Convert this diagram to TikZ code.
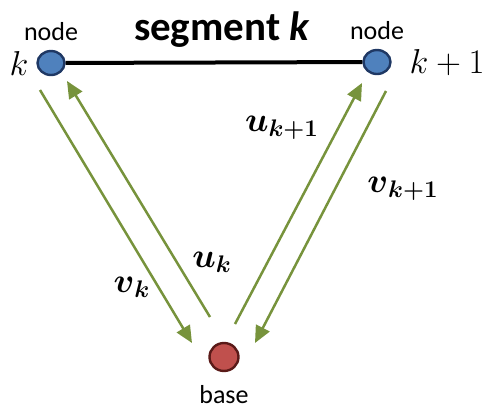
\documentclass[tikz,border=0pt]{standalone}
\usepackage{amsmath,amssymb}
\usepackage{fontspec}
\setmainfont{Carlito}
\usepackage{xcolor}
\usepackage{tikz}
\usetikzlibrary{arrows.meta,positioning,shapes.geometric}

\definecolor{arrowgreen}{HTML}{77933C}
\definecolor{nodeblue}{HTML}{4F81BD}
\definecolor{nodeedge}{HTML}{1F3864}
\definecolor{basered}{HTML}{C0504D}
\definecolor{baseedge}{HTML}{5A1A18}

\begin{document}
\begin{tikzpicture}[x=0.5pt,y=-0.5pt,
  segnode/.style={ellipse,draw=nodeedge,fill=nodeblue,line width=1.2pt,
    minimum width=13.5pt,minimum height=12pt,inner sep=0pt},
  basenode/.style={ellipse,draw=baseedge,fill=basered,line width=1.2pt,
    minimum width=14.5pt,minimum height=14pt,inner sep=0pt},
  tag/.style={font=\fontsize{13}{15}\selectfont},
  idx/.style={font=\fontsize{19}{21}\selectfont},
  flow/.style={draw=arrowgreen,line width=1.25pt,
    -{Triangle[length=8.5pt,width=7.5pt]}},
  flowlbl/.style={font=\fontsize{18}{20}\selectfont}
]
  \useasboundingbox (0,0) rectangle (489,408);

  % nodes
  \node[segnode] (left) at (51,63) {};
  \node[segnode] (right) at (377,62) {};
  \node[basenode] (base) at (224,357) {};

  \node[tag,above=1pt of left] (lefttag) {node};
  \node[tag,above=1pt of right] (righttag) {node};
  \node[tag,below=3pt of base] (basetag) {base};
  \node[idx] (kname) at (19,63) {$k$};
  \node[idx] (kpname) at (447,63) {$k+1$};

  \draw[line width=2pt] (left) -- node[above=3pt,xshift=4pt,font=\fontsize{20.5}{22}\selectfont]
    {\textbf{segment \textit{k}}} (right);

  % arrow ends
  \coordinate (vk0) at (40,90);
  \coordinate (vk1) at (192,343);
  \coordinate (uk0) at (210,317);
  \coordinate (uk1) at (67,81);
  \coordinate (up0) at (235,324);
  \coordinate (up1) at (362,83);
  \coordinate (vp0) at (386,91);
  \coordinate (vp1) at (255,343);

  \draw[flow] (vk0) -- (vk1);
  \draw[flow] (uk0) -- (uk1);
  \draw[flow] (up0) -- (up1);
  \draw[flow] (vp0) -- (vp1);

  \node[flowlbl] (vklbl) at (132,287) {$\boldsymbol{v}_{\boldsymbol{k}}$};
  \node[flowlbl] (uklbl) at (212,262) {$\boldsymbol{u}_{\boldsymbol{k}}$};
  \node[flowlbl] (uplbl) at (282,128) {$\boldsymbol{u}_{\boldsymbol{k+1}}$};
  \node[flowlbl] (vplbl) at (403,189) {$\boldsymbol{v}_{\boldsymbol{k+1}}$};
\end{tikzpicture}
\end{document}
